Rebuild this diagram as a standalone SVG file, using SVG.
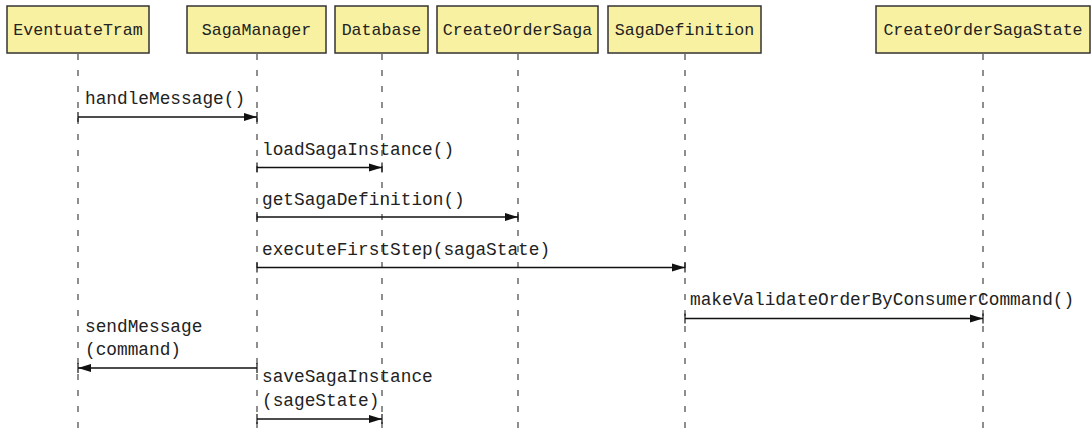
<svg xmlns="http://www.w3.org/2000/svg" width="1092" height="435" viewBox="0 0 1092 435">
<style>
.box{fill:#f8f1a2;stroke:#333;stroke-width:1.5}
.bl{font-family:"Liberation Mono","Courier New",monospace;font-size:16.6px;fill:#222;text-anchor:middle}
.ml{font-family:"Liberation Mono","Courier New",monospace;font-size:17.8px;fill:#222}
.life{stroke:#444;stroke-width:1.2;stroke-dasharray:6 10;fill:none}
.msg{stroke:#111;stroke-width:1.3;fill:none}
</style>
<defs>
<marker id="arr" markerWidth="16" markerHeight="12" refX="13" refY="6" orient="auto" markerUnits="userSpaceOnUse">
<path d="M0,2 L13,6 L0,10 Z" fill="#111"/>
<line x1="13" y1="1" x2="13" y2="11" stroke="#111" stroke-width="1.2"/>
</marker>
<marker id="tick" markerWidth="4" markerHeight="12" refX="2" refY="6" orient="auto" markerUnits="userSpaceOnUse">
<line x1="2" y1="1" x2="2" y2="11" stroke="#111" stroke-width="1.2"/>
</marker>
</defs>
<g id="lifelines">
<line class="life" x1="78" y1="54" x2="78" y2="435"/>
<line class="life" x1="257" y1="54" x2="257" y2="435"/>
<line class="life" x1="382" y1="54" x2="382" y2="435"/>
<line class="life" x1="518" y1="54" x2="518" y2="435"/>
<line class="life" x1="685" y1="54" x2="685" y2="435"/>
<line class="life" x1="983" y1="54" x2="983" y2="435"/>
</g>
<g id="EventuateTram"><rect class="box" x="7" y="6" width="142" height="47"/><text class="bl" x="78" y="35">EventuateTram</text></g>
<g id="SagaManager"><rect class="box" x="187" y="6" width="139" height="47"/><text class="bl" x="256.5" y="35">SagaManager</text></g>
<g id="Database"><rect class="box" x="335" y="6" width="93" height="47"/><text class="bl" x="381.5" y="35">Database</text></g>
<g id="CreateOrderSaga"><rect class="box" x="437" y="6" width="161" height="47"/><text class="bl" x="517.5" y="35">CreateOrderSaga</text></g>
<g id="SagaDefinition"><rect class="box" x="608" y="6" width="153" height="47"/><text class="bl" x="684.5" y="35">SagaDefinition</text></g>
<g id="CreateOrderSagaState"><rect class="box" x="876" y="6" width="214" height="47"/><text class="bl" x="983" y="35">CreateOrderSagaState</text></g>
<g id="connectors">
<line class="msg" x1="78" y1="117" x2="257" y2="117" marker-start="url(#tick)" marker-end="url(#arr)"/>
<text class="ml" x="85" y="104">handleMessage()</text>
<line class="msg" x1="257" y1="167.5" x2="382" y2="167.5" marker-start="url(#tick)" marker-end="url(#arr)"/>
<text class="ml" x="262" y="155">loadSagaInstance()</text>
<line class="msg" x1="257" y1="217" x2="518" y2="217" marker-start="url(#tick)" marker-end="url(#arr)"/>
<text class="ml" x="262" y="205">getSagaDefinition()</text>
<line class="msg" x1="257" y1="267.5" x2="685" y2="267.5" marker-start="url(#tick)" marker-end="url(#arr)"/>
<text class="ml" x="262" y="255">executeFirstStep(sagaState)</text>
<line class="msg" x1="685" y1="318.5" x2="983" y2="318.5" marker-start="url(#tick)" marker-end="url(#arr)"/>
<text class="ml" x="690" y="305">makeValidateOrderByConsumerCommand()</text>
<line class="msg" x1="257" y1="368" x2="78" y2="368" marker-start="url(#tick)" marker-end="url(#arr)"/>
<text class="ml" x="85" y="332">sendMessage</text>
<text class="ml" x="85" y="355">(command)</text>
<line class="msg" x1="257" y1="419" x2="382" y2="419" marker-start="url(#tick)" marker-end="url(#arr)"/>
<text class="ml" x="262" y="382">saveSagaInstance</text>
<text class="ml" x="262" y="406">(sageState)</text>
</g>
</svg>
